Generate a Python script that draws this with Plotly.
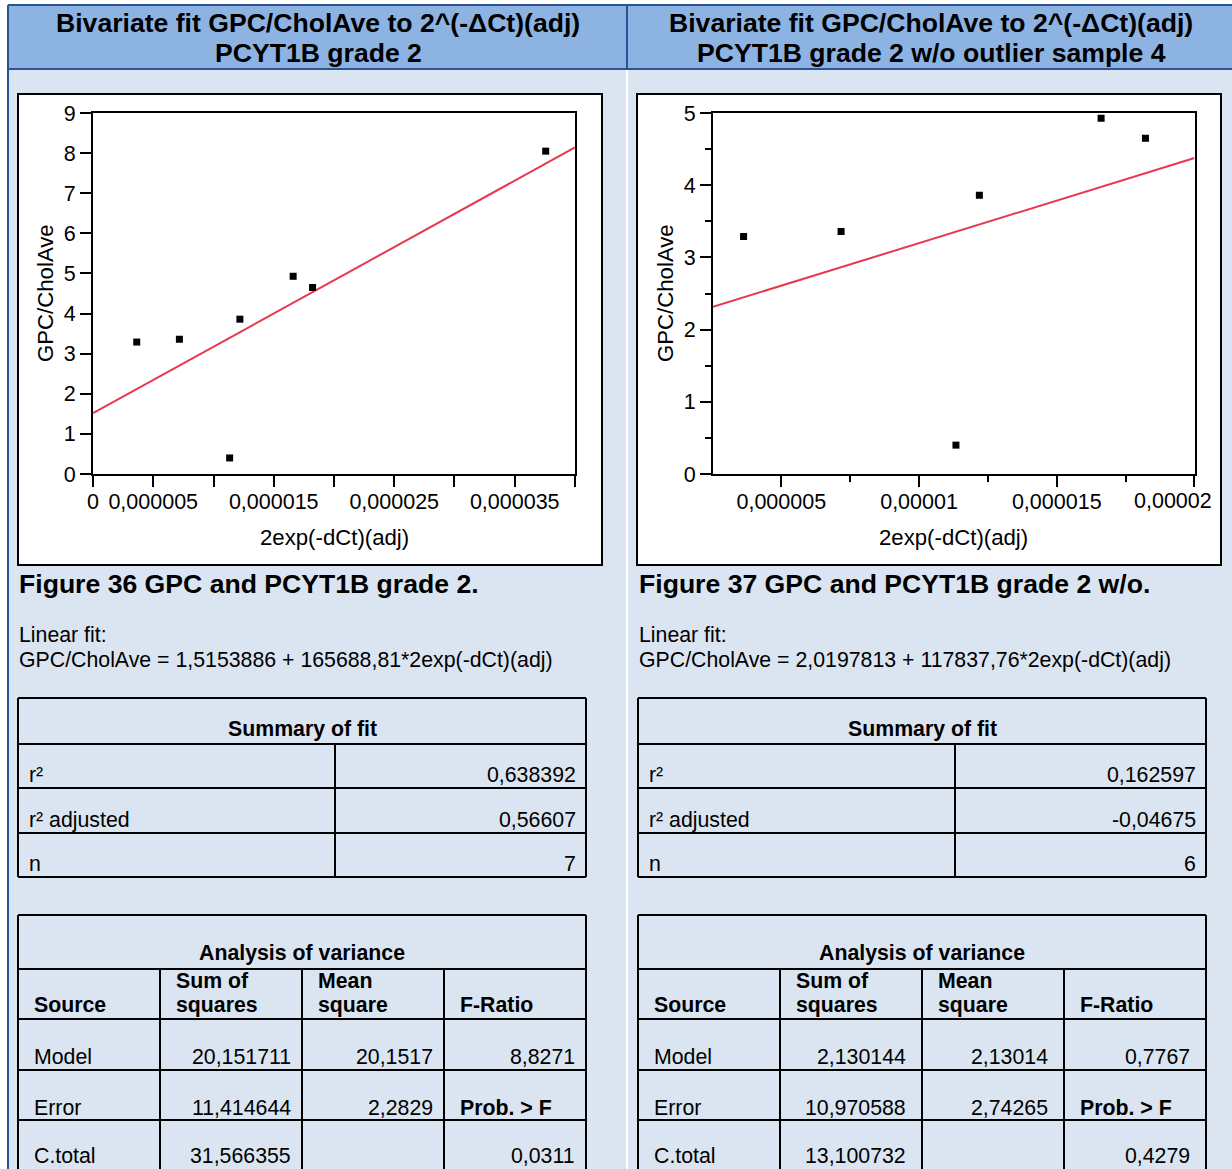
import plotly.graph_objects as go

W, H = 1232, 1169
FONT = "Liberation Sans, Arial, sans-serif"

# ---------------- data ----------------
x_all = [3.63e-6, 7.17e-6, 1.134e-5, 1.219e-5, 1.661e-5, 1.822e-5, 3.757e-5]
y_all = [3.29, 3.36, 0.40, 3.86, 4.93, 4.65, 8.05]
x_wo = [3.63e-6, 7.17e-6, 1.134e-5, 1.219e-5, 1.661e-5, 1.822e-5]
y_wo = [3.29, 3.36, 0.40, 3.86, 4.93, 4.65]

fit_all = (1.5153886, 165688.81)
fit_wo = (2.0197813, 117837.76)

xrange_all = [0, 4.0001e-5]
xrange_wo = [2.52e-6, 2.00005e-5]
yrange_all = [0, 9.001]
yrange_wo = [0, 5.001]

xtickvals_all = [0, 5e-6, 1e-5, 1.5e-5, 2e-5, 2.5e-5, 3e-5, 3.5e-5, 4e-5]
xticktext_all = ["0", "0,000005", "", "0,000015", "", "0,000025", "", "0,000035", ""]
xtickvals_wo = [5e-6, 1e-5, 1.5e-5, 2e-5]
xticktext_wo = ["0,000005", "0,00001", "0,000015", ""]
xlast_tick_wo = (2e-5, "0,00002")   # end label, drawn right-aligned at the axis end
xminor_wo = [7.5e-6, 1.25e-5, 1.75e-5]

titles = [("Bivariate fit GPC/CholAve to 2^(-ΔCt)(adj)", "PCYT1B grade 2"),
          ("Bivariate fit GPC/CholAve to 2^(-ΔCt)(adj)", "PCYT1B grade 2 w/o outlier sample 4")]
captions = ["Figure 36 GPC and PCYT1B grade 2.", "Figure 37 GPC and PCYT1B grade 2 w/o."]
equations = ["GPC/CholAve = 1,5153886 + 165688,81*2exp(-dCt)(adj)",
             "GPC/CholAve = 2,0197813 + 117837,76*2exp(-dCt)(adj)"]

summary_labels = ["r²", "r² adjusted", "n"]
summary_all = ["0,638392", "0,56607", "7"]
summary_wo = ["0,162597", "-0,04675", "6"]

anova_sources = ["Model", "Error", "C.total"]
anova_ss_all = ["20,151711", "11,414644", "31,566355"]
anova_ms_all = ["20,1517", "2,2829", ""]
anova_f_all = ["8,8271", "Prob. &gt; F", "0,0311"]
anova_ss_wo = ["2,130144", "10,970588", "13,100732"]
anova_ms_wo = ["2,13014", "2,74265", ""]
anova_f_wo = ["0,7767", "Prob. &gt; F", "0,4279"]

# ---------------- helpers ----------------
def X(px):
    return px / W

def Y(py):
    return 1 - py / H

shapes = []
annotations = []

def rect(x0, y0, x1, y1, fill=None, line=None, width=0, layer="below"):
    d = dict(type="rect", xref="paper", yref="paper", x0=X(x0), x1=X(x1), y0=Y(y0), y1=Y(y1),
             layer=layer, line=dict(width=width, color=line or "rgba(0,0,0,0)"))
    if fill:
        d["fillcolor"] = fill
    shapes.append(d)

def line(x0, y0, x1, y1, color="black", width=2, layer="above"):
    shapes.append(dict(type="line", xref="paper", yref="paper", x0=X(x0), x1=X(x1), y0=Y(y0), y1=Y(y1),
                       layer=layer, line=dict(color=color, width=width)))

BODYF = 21.3
BOLDF = 26.6

def txt(x, y, s, size=BODYF, bold=False, xanchor="left", angle=0):
    annotations.append(dict(x=X(x), y=Y(y), xref="paper", yref="paper",
                            text=("<b>%s</b>" % s) if bold else s, showarrow=False,
                            xanchor=xanchor, yanchor="middle", textangle=angle,
                            borderpad=0,
                            font=dict(family=FONT, size=size, color="black")))

BODY = "#dbe5f1"
HEAD = "#8db3e2"
BORDER = "#2a5592"

# page background
rect(8, 5, 1240, 1175, fill=BODY)
rect(8, 5, 1240, 69, fill=HEAD)
line(627, 69, 627, 1175, color="white", width=2, layer="below")

# chart frames
for fx in (18, 637):
    rect(fx, 94, fx + 584, 565, fill="white", line="black", width=2)

# header borders
line(8, 5, 1240, 5, color=BORDER, width=2)
line(8, 69, 1240, 69, color=BORDER, width=2)
line(8, 5, 8, 1175, color=BORDER, width=2)
line(627, 5, 627, 69, color=BORDER, width=2)

panels = [
    dict(cx=318, tl=18, sumx=(18, 335, 586), cols=(18, 160, 302, 444, 586), pad=10,
         ss=anova_ss_all, ms=anova_ms_all, f=anova_f_all, summ=summary_all, xt=334, yt=45),
    dict(cx=931, tl=638, sumx=(638, 955, 1206), cols=(638, 780, 922, 1064, 1206), pad=15,
         ss=anova_ss_wo, ms=anova_ms_wo, f=anova_f_wo, summ=summary_wo, xt=953, yt=665),
]

for i, p in enumerate(panels):
    t1, t2 = titles[i]
    txt(p["cx"], 23, t1, size=BOLDF, bold=True, xanchor="center")
    txt(p["cx"], 53, t2, size=BOLDF, bold=True, xanchor="center")
    txt(p["tl"], 584, captions[i], size=BOLDF, bold=True)
    txt(p["tl"], 635, "Linear fit:")
    txt(p["tl"], 660, equations[i])

    # axis titles
    txt(p["xt"], 537, "2exp(-dCt)(adj)", size=22.2, xanchor="center")
    txt(p["yt"], 293, "GPC/CholAve", size=22.2, xanchor="center", angle=-90)

    # summary table
    a, d, b = p["sumx"]
    rows = [698, 744, 788, 833, 877]
    for ry in rows:
        line(a, ry, b, ry)
    line(a, 698, a, 877)
    line(b, 698, b, 877)
    line(d, 744, d, 877)
    txt((a + b) / 2, 729, "Summary of fit", bold=True, xanchor="center")
    for k, lab in enumerate(summary_labels):
        yy = rows[k + 2] - 13
        txt(a + 10, yy, lab)
        txt(b - 9, yy, p["summ"][k], xanchor="right")

    # anova table
    c = p["cols"]
    arows = [915, 969, 1019, 1070, 1120]
    for ry in arows:
        line(c[0], ry, c[4], ry)
    line(c[0], 915, c[0], 1180)
    line(c[4], 915, c[4], 1180)
    for cx_ in c[1:4]:
        line(cx_, 969, cx_, 1180)
    txt((c[0] + c[4]) / 2, 953, "Analysis of variance", bold=True, xanchor="center")
    txt(c[0] + 15, 1005, "Source", bold=True)
    txt(c[1] + 15, 981, "Sum of", bold=True)
    txt(c[1] + 15, 1005, "squares", bold=True)
    txt(c[2] + 15, 981, "Mean", bold=True)
    txt(c[2] + 15, 1005, "square", bold=True)
    txt(c[3] + 15, 1005, "F-Ratio", bold=True)
    for k, src in enumerate(anova_sources):
        yy = [1057, 1108, 1156][k]
        txt(c[0] + 15, yy, src)
        txt(c[2] - p["pad"], yy, p["ss"][k], xanchor="right")
        if p["ms"][k]:
            txt(c[3] - p["pad"], yy, p["ms"][k], xanchor="right")
        if p["f"][k].startswith("Prob"):
            txt(c[3] + 15, yy, p["f"][k], bold=True)
        else:
            txt(c[4] - p["pad"], yy, p["f"][k], xanchor="right")

# end-of-axis tick label of the right chart, placed on the axis' own scale
annotations.append(dict(x=xlast_tick_wo[0], xref="x2", y=Y(501), yref="paper",
                        text=xlast_tick_wo[1], showarrow=False, xanchor="right", yanchor="middle",
                        xshift=19, borderpad=0,
                        font=dict(family=FONT, size=21.5, color="black")))

# ---------------- traces ----------------
fig = go.Figure()
LINEC = "#e8384f"

fig.add_trace(go.Scatter(x=xrange_all, y=[fit_all[0] + fit_all[1] * v for v in xrange_all],
                         mode="lines", line=dict(color=LINEC, width=2), xaxis="x", yaxis="y",
                         showlegend=False, hoverinfo="skip"))
fig.add_trace(go.Scatter(x=x_all, y=y_all, mode="markers",
                         marker=dict(symbol="square", size=7, color="black"),
                         xaxis="x", yaxis="y", showlegend=False))
fig.add_trace(go.Scatter(x=xrange_wo, y=[fit_wo[0] + fit_wo[1] * v for v in xrange_wo],
                         mode="lines", line=dict(color=LINEC, width=2), xaxis="x2", yaxis="y2",
                         showlegend=False, hoverinfo="skip"))
fig.add_trace(go.Scatter(x=x_wo, y=y_wo, mode="markers",
                         marker=dict(symbol="square", size=7, color="black"),
                         xaxis="x2", yaxis="y2", showlegend=False))

tickfont = dict(family=FONT, size=21.5, color="black")
axcommon = dict(showgrid=False, zeroline=False, showline=True, mirror=True, linecolor="black",
                linewidth=2, ticks="outside", tickcolor="black", tickwidth=2, ticklen=11,
                tickfont=tickfont, fixedrange=True, automargin=False,
                ticklabeloverflow="allow")

fig.update_layout(
    width=W, height=H, autosize=False,
    margin=dict(l=0, r=0, t=0, b=0, pad=0, autoexpand=False),
    paper_bgcolor="white", plot_bgcolor="white",
    showlegend=False,
    shapes=shapes, annotations=annotations,
    xaxis=dict(domain=[X(93), X(575)], range=xrange_all, anchor="y", tickmode="array",
               tickvals=xtickvals_all, ticktext=xticktext_all, ticklabelstandoff=-4, **axcommon),
    yaxis=dict(domain=[Y(474), Y(113)], range=yrange_all, anchor="x", tickmode="linear",
               tick0=0, dtick=1, **axcommon),
    xaxis2=dict(domain=[X(713), X(1194.5)], range=xrange_wo, anchor="y2", tickmode="array",
                tickvals=xtickvals_wo, ticktext=xticktext_wo, ticklabelstandoff=-4,
                minor=dict(tickmode="array", tickvals=xminor_wo, ticks="outside", ticklen=6,
                           tickcolor="black", tickwidth=2),
                **axcommon),
    yaxis2=dict(domain=[Y(474), Y(113)], range=yrange_wo, anchor="x2", tickmode="linear",
                tick0=0, dtick=1,
                minor=dict(tick0=0, dtick=0.5, ticks="outside", ticklen=6, tickcolor="black",
                           tickwidth=2),
                **axcommon),
)

fig.write_html("out.html", config={"displayModeBar": False},
               post_script="document.body.style.margin='0';document.body.style.overflow='hidden';")
